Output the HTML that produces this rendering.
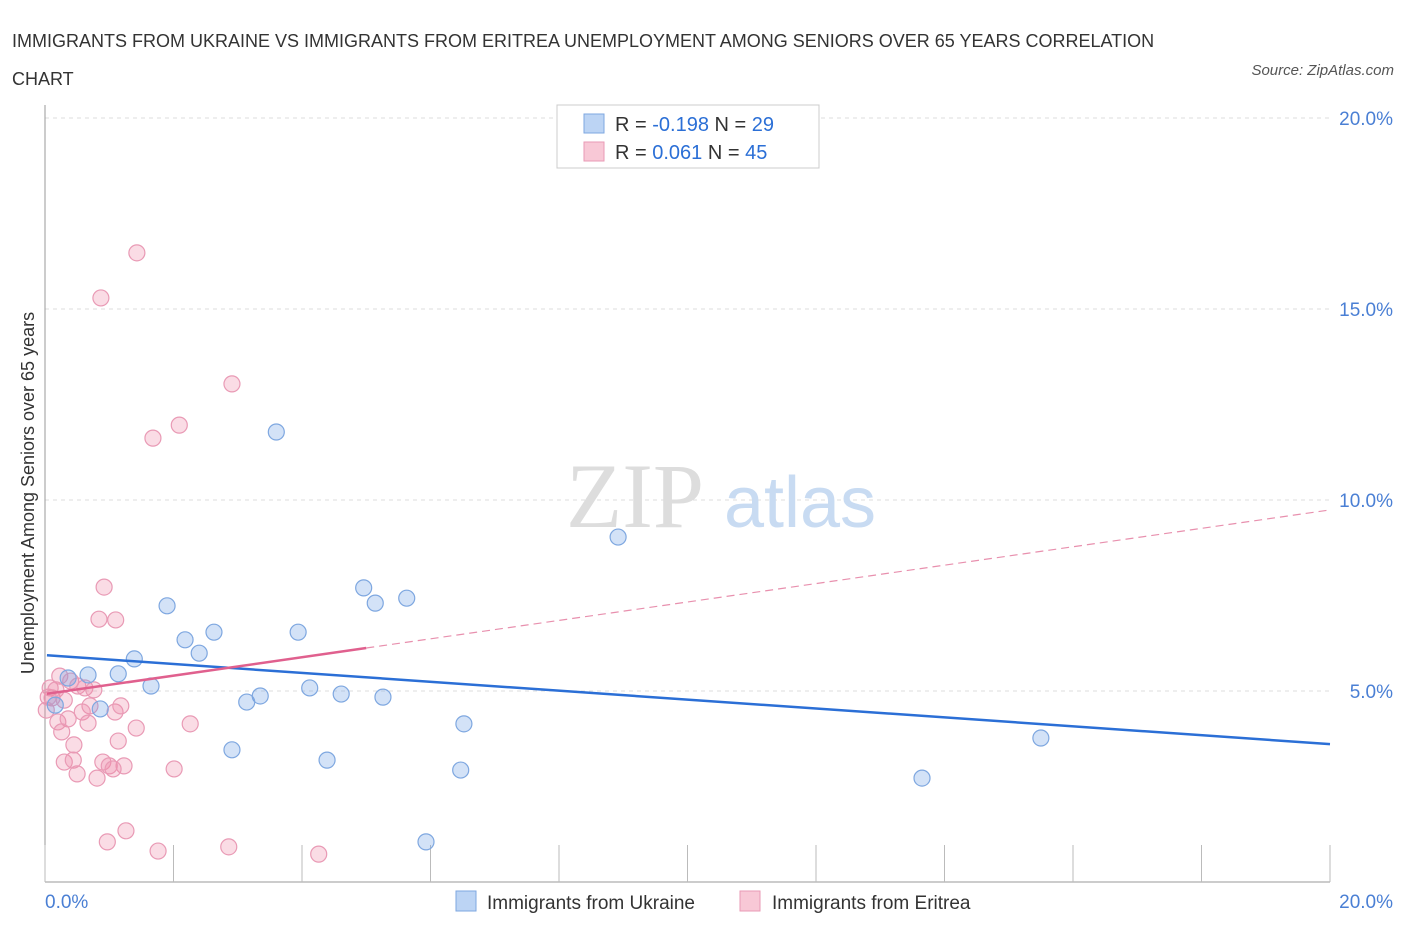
<!DOCTYPE html>
<html><head><meta charset="utf-8"><style>
body{margin:0;background:#fff;font-family:"Liberation Sans",sans-serif;}
#wrap{position:relative;width:1406px;height:930px;overflow:hidden;}
.t{position:absolute;}
</style></head><body>
<div id="wrap">
<div class="t" style="left:12px;top:22px;font-size:18px;color:#333;line-height:38px;width:1200px;">IMMIGRANTS FROM UKRAINE VS IMMIGRANTS FROM ERITREA UNEMPLOYMENT AMONG SENIORS OVER 65 YEARS CORRELATION CHART</div>
<div class="t" style="right:12px;top:62px;font-size:15px;color:#555;font-style:italic;">Source: ZipAtlas.com</div>
<svg id="svg" width="1406" height="930" style="position:absolute;left:0;top:0"></svg>
</div>
<script>
const xTicks=[0,2,4,6,8,10,12,14,16,18,20];
const yTicks=[5,10,15,20];
const yTickLabels=["5.0%","10.0%","15.0%","20.0%"];
const ukrX=[3.60,8.92,4.96,5.14,5.63,1.90,2.63,3.94,2.18,2.40,1.39,0.67,1.14,0.36,1.65,4.12,4.61,5.26,3.35,3.14,0.86,0.16,6.52,2.91,4.39,6.47,5.93,13.65,15.50];
const ukrY=[11.78,9.03,7.70,7.30,7.43,7.23,6.54,6.54,6.34,5.99,5.84,5.42,5.45,5.34,5.13,5.08,4.92,4.84,4.87,4.71,4.53,4.63,4.14,3.46,3.19,2.93,1.05,2.72,3.77];
const eriX=[1.43,0.87,2.91,2.09,1.68,0.92,0.84,1.10,0.23,0.40,0.08,0.11,0.51,0.62,0.20,0.36,0.70,0.58,1.09,1.18,0.67,1.42,2.26,0.26,1.14,0.45,0.30,0.44,0.90,1.00,1.23,1.06,2.01,0.50,0.81,1.26,0.97,1.76,2.86,4.26,0.05,0.17,0.02,0.30,0.76];
const eriY=[16.47,15.29,13.04,11.96,11.62,7.72,6.88,6.86,5.39,5.26,5.08,4.82,5.13,5.08,4.19,4.27,4.61,4.45,4.45,4.61,4.16,4.03,4.14,3.93,3.69,3.59,3.14,3.19,3.14,3.04,3.04,2.96,2.96,2.83,2.72,1.34,1.05,0.81,0.92,0.73,4.84,5.03,4.50,4.76,5.03];
const ukrTrend=[5.94,3.61];
const eriTrend=[4.92,9.74];
const eriSolidEnd=5.0;
const X=v=>45+v*64.25, Y=v=>882-v*38.2;
const svg=document.getElementById('svg');const NS='http://www.w3.org/2000/svg';
function mk(tag,a,name,parent){const e=document.createElementNS(NS,tag);for(const k in a)e.setAttribute(k,a[k]);


(parent||svg).appendChild(e);return e;}
yTicks.forEach((v,i)=>{mk('line',{x1:45,x2:1330,y1:Y(v),y2:Y(v),stroke:'#ddd','stroke-dasharray':'4,4'},'y-gridline');
const t=mk('text',{x:1393,y:Y(v)+7,'text-anchor':'end','font-size':19,fill:'#4a7fd4'},'y-tick-label');t.textContent=yTickLabels[i];});
mk('line',{x1:45,x2:1330,y1:118,y2:118,stroke:'#ddd','stroke-dasharray':'4,4'},'top-gridline');
mk('line',{x1:45,x2:45,y1:105,y2:882,stroke:'#999'},'y-axis');
mk('line',{x1:45,x2:1330,y1:882,y2:882,stroke:'#999'},'x-axis');
xTicks.forEach(v=>mk('line',{x1:X(v),x2:X(v),y1:845,y2:882,stroke:'#bbb'},'x-tick'));
let t=mk('text',{x:45,y:908,'font-size':19,fill:'#4a7fd4'},'x-min-label');t.textContent='0.0%';
t=mk('text',{x:1393,y:908,'text-anchor':'end','font-size':19,fill:'#4a7fd4'},'x-max-label');t.textContent='20.0%';
t=mk('text',{x:0,y:0,transform:'translate(34,493) rotate(-90)','text-anchor':'middle','font-size':18,fill:'#333'},'y-axis-title');t.textContent='Unemployment Among Seniors over 65 years';
t=mk('text',{x:635,y:527,'text-anchor':'middle','font-size':92,fill:'#ddd','font-family':'Liberation Serif'},'watermark-zip');t.textContent='ZIP';
t=mk('text',{x:800,y:527,'text-anchor':'middle','font-size':72,fill:'#c8dbf2'},'watermark-atlas');t.textContent='atlas';
eriX.forEach((x,i)=>mk('circle',{cx:X(x),cy:Y(eriY[i]),r:8,fill:'rgba(240,140,170,0.3)',stroke:'#e99ab5','stroke-width':1.2},'eritrea-point'));
ukrX.forEach((x,i)=>mk('circle',{cx:X(x),cy:Y(ukrY[i]),r:8,fill:'rgba(110,160,230,0.3)',stroke:'#7ea7e0','stroke-width':1.2},'ukraine-point'));
mk('line',{x1:X(0.03),y1:Y(ukrTrend[0]+(ukrTrend[1]-ukrTrend[0])*0.0015),x2:X(20),y2:Y(ukrTrend[1]),stroke:'#2b6fd6','stroke-width':2.5},'ukraine-trendline');
const ey=x=>eriTrend[0]+(eriTrend[1]-eriTrend[0])*x/20;
mk('line',{x1:X(0.03),y1:Y(ey(0.03)),x2:X(eriSolidEnd),y2:Y(ey(eriSolidEnd)),stroke:'#e0608e','stroke-width':2.5},'eritrea-trendline');
mk('line',{x1:X(eriSolidEnd),y1:Y(ey(eriSolidEnd)),x2:X(20),y2:Y(ey(20)),stroke:'#e890ae','stroke-width':1.2,'stroke-dasharray':'8,5'},'eritrea-trendline-extension');
// legend
mk('rect',{x:557,y:105,width:262,height:63,fill:'#fff',stroke:'#ccc'},'legend-box');
mk('rect',{x:584,y:114,width:20,height:19,fill:'#bcd4f4',stroke:'#7ea7e0'},'legend-swatch-ukraine');
mk('rect',{x:584,y:142,width:20,height:19,fill:'#f8c8d6',stroke:'#e99ab5'},'legend-swatch-eritrea');
function rt(x,y,parts,name){const e=mk('text',{x:x,y:y,'font-size':20,fill:'#333'},name);parts.forEach(p=>{const s=document.createElementNS(NS,'tspan');s.setAttribute('fill',p[1]);s.textContent=p[0];e.appendChild(s);});}
rt(615,131,[['R = ','#333'],['-0.198','#2b6fd6'],['    N = ','#333'],['29','#2b6fd6']],'legend-stats-ukraine');
rt(615,159,[['R =  ','#333'],['0.061','#2b6fd6'],['    N = ','#333'],['45','#2b6fd6']],'legend-stats-eritrea');
svg.querySelectorAll('tspan').forEach(s=>s.setAttribute('xml:space','preserve'));
svg.style.whiteSpace='pre';
mk('rect',{x:456,y:891,width:20,height:20,fill:'#bcd4f4',stroke:'#7ea7e0'},'bottom-legend-swatch-ukraine');
t=mk('text',{x:487,y:909,'font-size':19,fill:'#333'},'bottom-legend-ukraine');t.textContent='Immigrants from Ukraine';
mk('rect',{x:740,y:891,width:20,height:20,fill:'#f8c8d6',stroke:'#e99ab5'},'bottom-legend-swatch-eritrea');
t=mk('text',{x:772,y:909,'font-size':19,fill:'#333'},'bottom-legend-eritrea');t.textContent='Immigrants from Eritrea';
</script>
</body></html>
